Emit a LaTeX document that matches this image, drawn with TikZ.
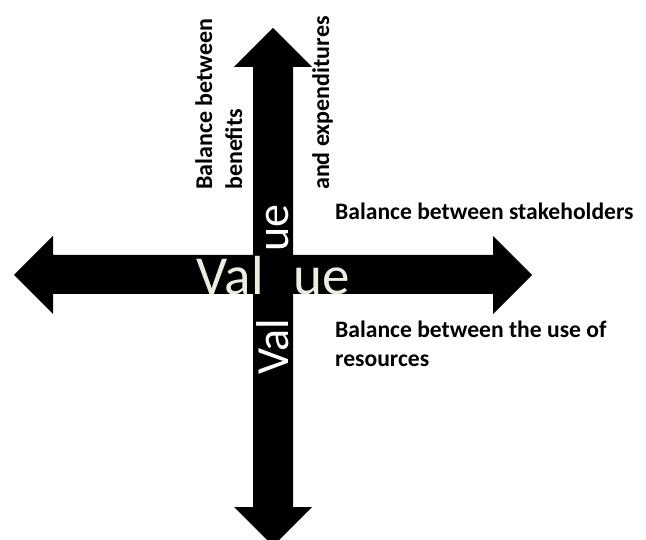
\documentclass[tikz,border=0pt]{standalone}
\usepackage{fontspec}
\setmainfont{Carlito}
\usetikzlibrary{positioning}
\definecolor{valuecream}{HTML}{EEECE1}
\definecolor{arrowblack}{HTML}{000000}
\tikzset{
  bigarrow/.style={fill=arrowblack},
  flatword/.style={inner sep=0pt, text=valuecream, font=\fontsize{55}{60}\selectfont},
  upword/.style={inner sep=0pt, text=white, rotate=90, font=\fontsize{46}{50}\selectfont},
  sidenote/.style={inner sep=0pt, align=left, font=\bfseries\fontsize{23.6}{28.5}\selectfont},
  upnote/.style={inner sep=0pt, align=left, rotate=90, font=\bfseries\fontsize{24}{30}\selectfont},
}

\begin{document}
\begin{tikzpicture}[x=1pt, y=-1pt]
\useasboundingbox (0,0) rectangle (646,540);

% Horizontal double arrow
\fill[bigarrow] (14,275) -- (53,236) -- (53,255) -- (493,255) -- (493,236)
  -- (532,275) -- (493,314) -- (493,294) -- (53,294) -- (53,314) -- cycle;

% Vertical double arrow
\fill[bigarrow] (273,28) -- (312,67) -- (293,67) -- (293,507) -- (312,507)
  -- (273,546) -- (234,507) -- (253,507) -- (253,67) -- (234,67) -- cycle;

% Words on the arrows
\node[flatword, anchor=base east] (hval) at (264,295) {Val};
\node[flatword, anchor=base west] (hue) at (293,295) {ue};
\node[upword, anchor=base west] (vue) at (288,252) {ue};
\node[upword, anchor=base west] (vval) at (288,375) {Val};

% Labels
\node[sidenote, anchor=base west] (stake) at (335,220) {Balance between stakeholders};
\node[sidenote, anchor=north west] (resource) at (335,321) {Balance between the use of\\resources};
\node[upnote, anchor=north west] (benefit) at (195,190) {Balance between\\benefits};
\node[upnote, anchor=base west] (expend) at (329,190) {and expenditures};

\end{tikzpicture}
\end{document}
